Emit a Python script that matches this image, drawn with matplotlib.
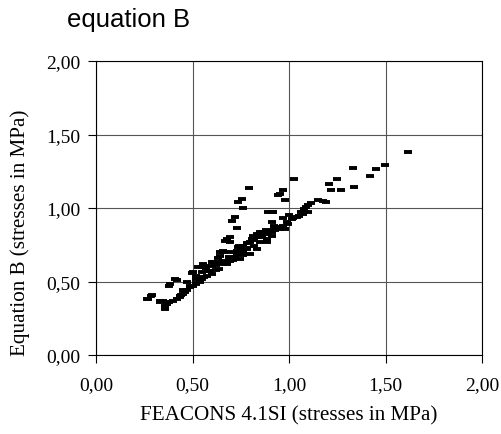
import matplotlib
matplotlib.use("Agg")
from matplotlib import pyplot as plt
import numpy as np

# valores (FEACONS 4.1SI vs equation B, en MPa)
feacons = [1.615, 1.497, 1.449, 1.420, 1.333, 1.338, 1.249, 1.209, 1.22, 1.27,
           1.178, 1.152, 1.192, 1.112, 1.100, 1.074, 1.05,
           1.028, 0.970, 0.945, 0.980, 0.953,
           0.791, 0.755, 0.738, 0.763,
           0.919, 0.893, 0.910, 0.910,
           0.720, 0.703, 0.729,
           1.014, 0.996, 0.988, 0.979, 0.953,
           0.858, 0.850, 0.832, 0.815, 0.910, 0.910, 0.884, 0.884,
           0.694, 0.677, 0.668, 0.694,
           0.798, 0.763, 0.734, 0.832, 0.781, 0.729, 0.660, 0.660, 0.642, 0.798,
           0.763, 0.746, 0.694, 0.712,
           0.625, 0.608, 0.599, 0.660, 0.660, 0.556, 0.565, 0.599, 0.530, 0.547, 0.642,
           0.636, 0.591, 0.548, 0.504, 0.496, 0.575, 0.539, 0.518, 0.539, 0.487,
           0.487, 0.461, 0.453, 0.435, 0.435, 0.418,
           0.418, 0.409, 0.383, 0.380,
           0.288, 0.285, 0.271, 0.262, 0.349, 0.332, 0.366, 0.358, 0.358, 0.332,
           0.40, 0.47, 0.52, 0.56, 0.60, 0.62, 0.68, 0.72, 0.70, 0.76, 0.82, 0.85,
           0.86, 0.93, 0.95, 1.02, 1.04, 1.06, 1.08, 1.09, 1.10, 0.87, 0.89, 0.92,
           0.97, 0.55, 0.50, 0.44, 0.38, 0.84, 0.81, 0.78, 0.75, 0.73, 0.69,
           0.45, 0.52, 0.58, 0.62, 0.66, 0.70, 0.74, 0.78, 0.82, 0.86, 0.88, 0.92,
           0.97, 1.00, 0.57, 0.63, 0.52, 0.47]
equation_b = [1.383, 1.295, 1.265, 1.215, 1.274, 1.145, 1.195, 1.166, 1.122, 1.122,
              1.050, 1.057, 1.040, 1.034, 0.971, 0.960, 0.945,
              1.195, 1.122, 1.091, 1.057, 1.095,
              1.136, 1.061, 1.043, 0.998,
              0.971, 0.971, 0.903, 0.975,
              0.937, 0.914, 0.862,
              0.925, 0.890, 0.903, 0.857, 0.857,
              0.839, 0.835, 0.823, 0.812, 0.835, 0.810, 0.789, 0.766,
              0.800, 0.789, 0.778, 0.771,
              0.767, 0.744, 0.737, 0.721, 0.720, 0.710, 0.710, 0.699, 0.676, 0.687,
              0.680, 0.653, 0.642, 0.644,
              0.630, 0.631, 0.631, 0.631, 0.619, 0.619, 0.608, 0.608, 0.597, 0.596, 0.699,
              0.585, 0.574, 0.563, 0.563, 0.558, 0.540, 0.517, 0.483, 0.494, 0.472,
              0.460, 0.426, 0.415, 0.403, 0.392, 0.381,
              0.512, 0.517, 0.483, 0.472,
              0.408, 0.404, 0.381, 0.381, 0.369, 0.365, 0.347, 0.335, 0.313, 0.358,
              0.37, 0.44, 0.49, 0.53, 0.55, 0.58, 0.62, 0.67, 0.66, 0.70, 0.74, 0.77,
              0.80, 0.85, 0.87, 0.93, 0.94, 0.97, 0.99, 1.01, 1.02, 0.82, 0.83, 0.86,
              0.88, 0.52, 0.47, 0.41, 0.36, 0.80, 0.79, 0.76, 0.72, 0.69, 0.67,
              0.44, 0.52, 0.57, 0.61, 0.64, 0.70, 0.74, 0.73, 0.78, 0.84, 0.85, 0.88,
              0.93, 0.95, 0.59, 0.66, 0.54, 0.50]

ticks = [0.0, 0.5, 1.0, 1.5, 2.0]
tick_labels = ["0,00", "0,50", "1,00", "1,50", "2,00"]

fig = plt.figure(figsize=(5.01, 4.35), dpi=100)
ax = fig.add_axes([96 / 501, 1 - 356 / 435, 386 / 501, 294 / 435])

ax.plot(feacons, equation_b, linestyle="none", marker="_", markersize=6,
        markeredgewidth=2.8, color="black")

ax.set_xlim(0, 2)
ax.set_ylim(0, 2)
ax.set_xticks(ticks)
ax.set_yticks(ticks)
ax.set_xticklabels(tick_labels, fontfamily="Liberation Serif", fontsize=14)
ax.set_yticklabels(tick_labels, fontfamily="Liberation Serif", fontsize=14)
ax.tick_params(direction="out", length=6, width=0.8, color="black")
ax.tick_params(axis="x", pad=9)
ax.tick_params(axis="y", pad=5)
ax.grid(True, color="#555555", linewidth=0.8)
ax.set_axisbelow(True)
for s in ax.spines.values():
  s.set_linewidth(0.8)
  s.set_color("black")

ax.set_xlabel("FEACONS 4.1SI (stresses in MPa)", fontfamily="Liberation Serif",
              fontsize=15.2, labelpad=9)
ax.set_ylabel("Equation B (stresses in MPa)", fontfamily="Liberation Serif",
              fontsize=15.2)
# la etiqueta del eje y esta algo mas abajo que el centro del eje
ax.yaxis.set_label_coords(-0.172, 0.42)

fig.text(67 / 501, 1 - 27 / 435, "equation B", fontfamily="Liberation Sans",
         fontsize=18.5, ha="left", va="baseline")

fig.savefig("out.png", dpi=100)
